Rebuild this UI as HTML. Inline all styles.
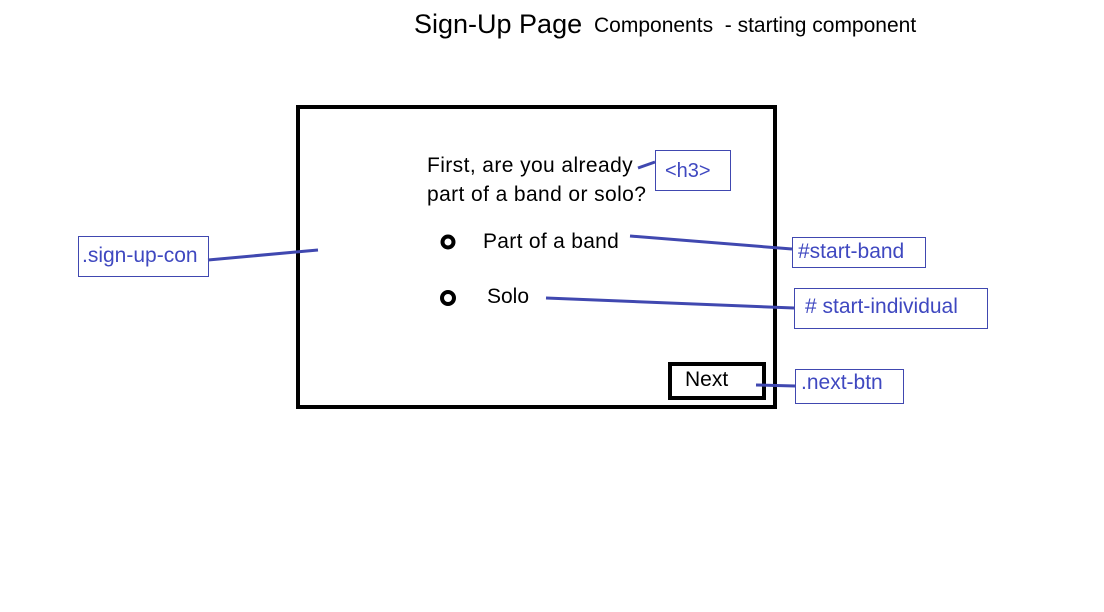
<!DOCTYPE html>
<html><head><style>
body{margin:0;width:1104px;height:612px;background:#fff;position:relative;overflow:hidden;font-family:"Liberation Sans",sans-serif}
.t{position:absolute;white-space:nowrap;color:#000}
.b{position:absolute;border:1px solid #4048b0;color:#3f48c0;font-size:20px;box-sizing:border-box;padding-left:5px}
</style></head><body>
<div class="t" style="left:414px;top:9px;font-size:27px">Sign-Up Page</div>
<div class="t" style="left:594px;top:14px;font-size:21px">Components&nbsp; - starting component</div>
<div style="position:absolute;left:296px;top:105px;width:481px;height:304px;border:4px solid #000;box-sizing:border-box"></div>
<div class="t" style="left:427px;top:151px;font-size:21px;line-height:29px;letter-spacing:0.4px">First, are you already<br>part of a band or solo?</div>
<div class="t" style="left:483px;top:230px;font-size:21px;letter-spacing:0.3px">Part of a band</div>
<div class="t" style="left:487px;top:285px;font-size:21px">Solo</div>
<div style="position:absolute;left:668px;top:362px;width:98px;height:38px;border:4px solid #000;box-sizing:border-box"></div>
<div class="t" style="left:685px;top:368px;font-size:21px">Next</div>
<div class="b" style="left:655px;top:150px;width:76px;height:41px;padding-top:9px;padding-left:9px">&lt;h3&gt;</div>
<div class="b" style="left:792px;top:237px;width:134px;height:31px;padding-top:2px;font-size:21px">#start-band</div>
<div class="b" style="left:794px;top:288px;width:194px;height:41px;padding-top:6px;padding-left:10px;font-size:21px"># start-individual</div>
<div class="b" style="left:795px;top:369px;width:109px;height:35px;padding-top:1px;font-size:21px">.next-btn</div>
<div class="b" style="left:78px;top:236px;width:131px;height:41px;padding-top:7px;padding-left:3px;font-size:21px">.sign-up-con</div>
<svg width="1104" height="612" style="position:absolute;left:0;top:0">
<g stroke="#4048b0" stroke-width="3" fill="none">
<line x1="638" y1="168" x2="655" y2="162"/>
<line x1="630" y1="236" x2="792" y2="249"/>
<line x1="546" y1="298" x2="794" y2="308"/>
<line x1="756" y1="385" x2="795" y2="386"/>
<line x1="208" y1="260" x2="318" y2="250"/>
</g>
<circle cx="448" cy="242" r="5.5" stroke="#000" stroke-width="4" fill="#fff"/>
<circle cx="448" cy="298" r="6" stroke="#000" stroke-width="4" fill="#fff"/>
</svg>
</body></html>
